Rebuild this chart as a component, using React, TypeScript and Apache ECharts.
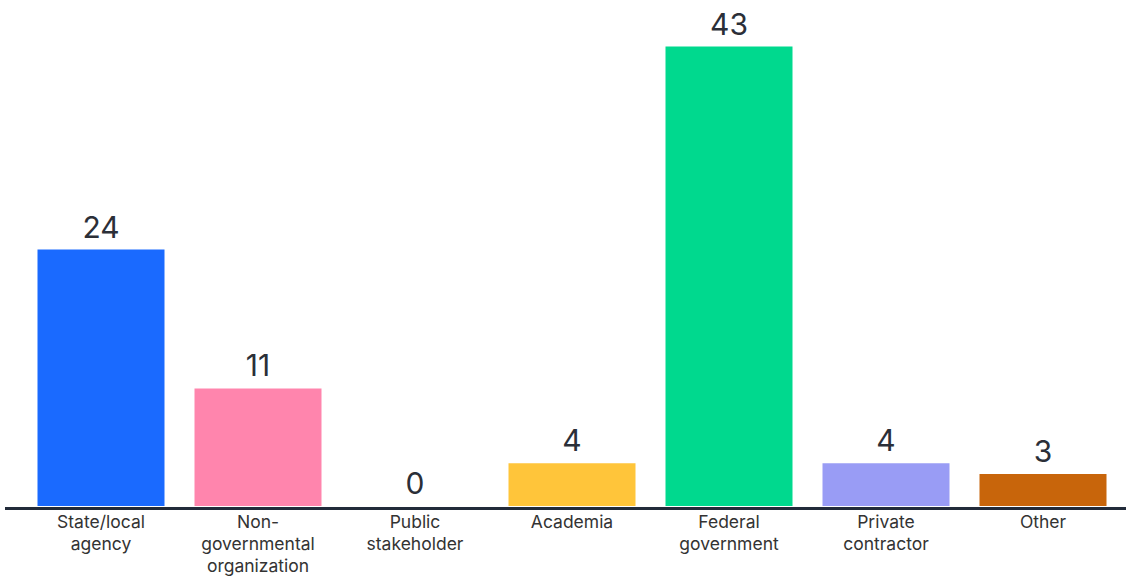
import React, { useEffect, useRef } from "react";
import * as echarts from "echarts";

const categories = [
  "State/local\nagency",
  "Non-\ngovernmental\norganization",
  "Public\nstakeholder",
  "Academia",
  "Federal\ngovernment",
  "Private\ncontractor",
  "Other",
];
const values = [24, 11, 0, 4, 43, 4, 3];
const colors = ["#1a6aff", "#ff85ad", "#cccccc", "#ffc53a", "#00d98e", "#999cf5", "#c8650b"];

export default function App() {
  const ref = useRef<HTMLDivElement>(null);
  useEffect(() => {
    if (!ref.current) return;
    const chart = echarts.init(ref.current, undefined, { renderer: "svg" });
    chart.setOption({
      animation: false,
      grid: { left: 22.5, right: 4.5, top: 46.5, bottom: 61, containLabel: false },
      xAxis: {
        type: "category",
        data: categories,
        axisLine: { show: false },
        axisTick: { show: false },
        axisLabel: {
          color: "#333333",
          fontFamily: "Inter",
          fontSize: 17.5,
          lineHeight: 22,
          margin: 4,
          interval: 0,
        },
      },
      yAxis: { type: "value", min: 0, max: 43, show: false, splitLine: { show: false } },
      graphic: [
        {
          type: "line",
          shape: { x1: 5, y1: 508.5, x2: 1126, y2: 508.5 },
          style: { stroke: "#222b3a", lineWidth: 3 },
          z: 10,
        },
      ],
      series: [
        {
          type: "bar",
          barWidth: 127,
          data: values.map((v, i) => ({ value: v, itemStyle: { color: colors[i] } })),
          label: {
            show: true,
            position: "top",
            distance: 8,
            color: "#2b2f38",
            fontFamily: "Inter",
            fontSize: 30,
          },
        },
      ],
    });
    return () => chart.dispose();
  }, []);
  return (
    <div
      ref={ref}
      style={{ position: "absolute", left: 0, top: 0, width: 1126, height: 576, background: "#fff" }}
    />
  );
}
